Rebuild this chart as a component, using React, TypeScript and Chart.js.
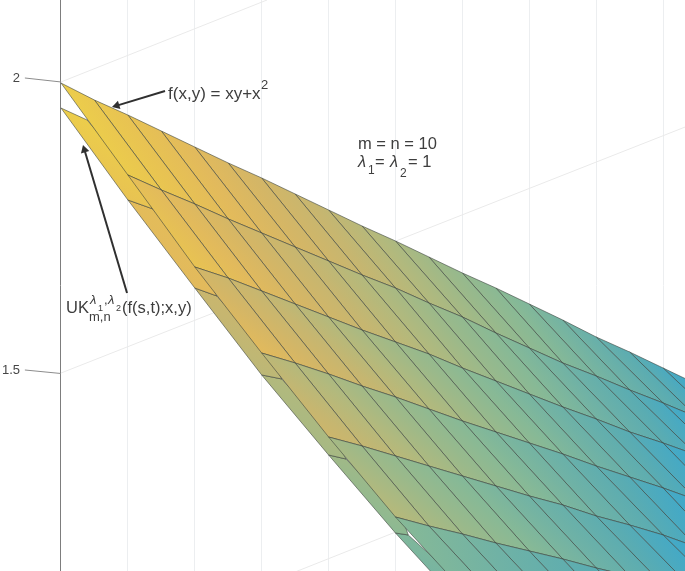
import React, { useEffect, useRef } from "react";
import { Chart, registerables } from "chart.js";

Chart.register(...registerables);

// Mesh columns (horizontal axis units) shared by every boundary of the surface
const columnX = [0, 0.5, 1, 1.5, 2, 2.5, 3, 3.5, 4, 4.5, 5, 5.5, 6, 6.5, 7, 7.5, 8, 8.5, 9, 9.5, 10, 10.5];

// Projected height of each surface boundary; row k starts at column x = k
const row0 = [1.9914, 1.9623, 1.9366, 1.9092, 1.8818, 1.8545, 1.8288, 1.8014, 1.774, 1.7466, 1.7209, 1.6935, 1.6661, 1.6404, 1.613, 1.5856, 1.5565, 1.5308, 1.5034, 1.476, 1.4486, 1.4212];
const row1 = [1.8339, 1.8082, 1.7843, 1.7586, 1.7346, 1.7106, 1.6867, 1.6627, 1.6404, 1.6147, 1.5908, 1.5634, 1.5377, 1.512, 1.4897, 1.4658, 1.4435, 1.4195, 1.3956, 1.3716];
const row2 = [1.6764, 1.6575, 1.6353, 1.613, 1.5908, 1.5685, 1.548, 1.5274, 1.5034, 1.4812, 1.4589, 1.4367, 1.4161, 1.3939, 1.375, 1.3545, 1.3339, 1.3134];
const row3 = [1.5291, 1.512, 1.4932, 1.4726, 1.4538, 1.4332, 1.4127, 1.3939, 1.375, 1.3562, 1.3356, 1.3168, 1.298, 1.2774, 1.2569, 1.238];
const row4 = [1.3853, 1.3699, 1.3528, 1.3356, 1.3185, 1.3014, 1.2843, 1.2689, 1.25, 1.2346, 1.2175, 1.1969, 1.1764, 1.1575];
const row5 = [1.2483, 1.2329, 1.2192, 1.2038, 1.1901, 1.1764, 1.161, 1.1473, 1.1319, 1.1182, 1.1045, 1.0908];
const row6 = [1.1233, 1.1096, 1.0959, 1.0822, 1.0685, 1.0548, 1.0411, 1.0274, 1.0137, 1.0];
const rows = [row0, row1, row2, row3, row4, row5, row6];

// Lower (operator) surface: its left edge and where it disappears under the upper one
const lowerEdgeX = [0, 1, 2, 3, 4, 5, 6];
const lowerEdgeZ = [1.9486, 1.7911, 1.6404, 1.4915, 1.3545, 1.2209, 1.0959];
const lowerToothX = [0.39, 1.375, 2.33, 3.3, 4.26, 5.19, 6.19];
const lowerToothZ = [1.9281, 1.7757, 1.6267, 1.4846, 1.3476, 1.2175, 1.0977];

// Colour level at the band corners (0 = blue, 1 = yellow)
const bandTopLeft = [1, 0.85, 0.68, 0.55, 0.44, 0.3];
const bandTopRight = [0, 0, 0, 0, 0, 0];
const bandBottomLeft = [0.98, 0.9, 0.8, 0.65, 0.52, 0.25];
const bandBottomRight = [0.08, 0.05, 0.04, 0.03, 0.04, 0];
const lowerTop = [1, 0.82, 0.62, 0.5, 0.42, 0.27];
const lowerBottom = [0.9, 0.8, 0.55, 0.45, 0.33, 0.2];

// Axes
const xGridValues = [0, 1, 2, 3, 4, 5, 6, 7, 8, 9];
const zTickValues = [2, 1.5];
const zTickLabels = ["2", "1.5"];

// Back wall lines and slanted tick stubs
const wallLines = [
  { x: [0, 3.08], z: [1.9932, 2.1336] },
  { x: [0, 9.33], z: [1.4948, 1.9161] },
  { x: [0, 9.33], z: [0.9949, 1.4195] },
];
const tickStubs = [
  { x: [-0.54, 0], z: [2, 1.9932] },
  { x: [-0.54, 0], z: [1.5, 1.494] },
];

// Annotation arrows: tail, head
const arrows = [
  { x: [1.555, 0.834], z: [1.9777, 1.9527], rot: 253 },
  { x: [0.987, 0.35], z: [1.6319, 1.8771], rot: -16.6 },
];

const SANS = '"Liberation Sans", Arial, sans-serif';
// Annotation text: anchor on the axes, runs offset in pixels
const annotations = [
  {
    x: 1.6, z: 1.964,
    runs: [
      { t: "f(x,y) = xy+x", dx: 0, dy: 0, s: 17 },
      { t: "2", dx: 93, dy: -10, s: 13 },
    ],
  },
  { x: 4.44, z: 1.879, runs: [{ t: "m = n = 10", dx: 0, dy: 0, s: 16.5 }] },
  {
    x: 4.44, z: 1.848,
    runs: [
      { t: "λ", dx: 0, dy: 0, s: 16.5, i: true },
      { t: "1", dx: 10, dy: 7, s: 12 },
      { t: "=", dx: 17, dy: 0, s: 16.5 },
      { t: "λ", dx: 32, dy: 0, s: 16.5, i: true },
      { t: "2", dx: 42, dy: 10, s: 12 },
      { t: "= 1", dx: 50, dy: 0, s: 16.5 },
    ],
  },
  {
    x: 0.075, z: 1.598,
    runs: [
      { t: "UK", dx: 0, dy: 0, s: 16.5 },
      { t: "m,n", dx: 23, dy: 8, s: 13 },
      { t: "λ", dx: 24, dy: -9, s: 13, i: true },
      { t: "1", dx: 32, dy: -2, s: 9 },
      { t: ",", dx: 38, dy: -9, s: 13 },
      { t: "λ", dx: 42, dy: -9, s: 13, i: true },
      { t: "2", dx: 50, dy: -2, s: 9 },
      { t: "(f(s,t);x,y)", dx: 56, dy: 0, s: 16.5 },
    ],
  },
];

const colourStops: [number, number[]][] = [
  [0, [60, 168, 205]],
  [0.1, [90, 172, 178]],
  [0.2, [112, 178, 165]],
  [0.3, [135, 185, 150]],
  [0.4, [155, 185, 138]],
  [0.5, [178, 185, 125]],
  [0.6, [198, 182, 112]],
  [0.7, [212, 182, 102]],
  [0.8, [226, 186, 92]],
  [0.9, [232, 195, 82]],
  [1, [236, 205, 75]],
];

type P = { x: number; y: number };

function cellFill(chart: any, pts: P[], levels: number[]) {
  const sx = chart.scales.x;
  const sy = chart.scales.y;
  if (!chart.chartArea || !sx || !sy) return "transparent";
  const p = pts.map((q) => [sx.getPixelForValue(q.x), sy.getPixelForValue(q.y)]);
  const ax = p[1][0] - p[0][0], ay = p[1][1] - p[0][1];
  const bx = p[2][0] - p[0][0], by = p[2][1] - p[0][1];
  const da = levels[1] - levels[0], db = levels[2] - levels[0];
  const det = ax * by - ay * bx;
  const gx = (da * by - db * ay) / det;
  const gy = (db * ax - da * bx) / det;
  const g2 = gx * gx + gy * gy || 1e-9;
  const x0 = p[0][0] - (gx * levels[0]) / g2;
  const y0 = p[0][1] - (gy * levels[0]) / g2;
  const grad = chart.ctx.createLinearGradient(x0, y0, x0 + gx / g2, y0 + gy / g2);
  colourStops.forEach(([v, c]) => grad.addColorStop(v, `rgb(${c[0]},${c[1]},${c[2]})`));
  return grad;
}

const MESH = "rgba(58,66,60,0.58)";

function polygon(points: P[], planePts: P[], levels: number[], order: number, border = MESH) {
  return {
    data: [...points, points[0]],
    order,
    fill: "shape",
    tension: 0,
    pointRadius: 0,
    borderWidth: 1,
    borderColor: border,
    backgroundColor: (ctx: any) => cellFill(ctx.chart, planePts, levels),
  };
}

function plainLine(x: number[], z: number[], color: string, width: number, order: number) {
  return {
    data: x.map((v, i) => ({ x: v, y: z[i] })),
    order,
    fill: false,
    tension: 0,
    pointRadius: 0,
    borderWidth: width,
    borderColor: color,
    clip: false,
  };
}

function buildDatasets() {
  const sets: any[] = [];
  wallLines.forEach((l) => sets.push(plainLine(l.x, l.z, "rgb(234,234,234)", 1, 1000)));
  tickStubs.forEach((l) => sets.push(plainLine(l.x, l.z, "rgb(140,140,140)", 1, 1000)));

  lowerEdgeX.slice(0, -1).forEach((_, k) => {
    const lt = { x: lowerEdgeX[k], y: lowerEdgeZ[k] };
    const tt = { x: lowerToothX[k], y: lowerToothZ[k] };
    const tb = { x: lowerToothX[k + 1], y: lowerToothZ[k + 1] };
    const lb = { x: lowerEdgeX[k + 1], y: lowerEdgeZ[k + 1] };
    const under = { x: columnX[2 * (k + 1)] + 0.1, y: rows[k + 1][0] };
    sets.push(polygon([lt, tt, under, tb, lb], [lt, tt, lb], [lowerTop[k], lowerTop[k], lowerBottom[k]], 900));
  });

  for (let k = 0; k < rows.length - 1; k++) {
    const top = rows[k];
    const bottom = rows[k + 1];
    const topSpan = (9.5 - k) * 2;
    const botSpan = (9.5 - (k + 1)) * 2;
    const levelTop = (j: number) => bandTopLeft[k] + (bandTopRight[k] - bandTopLeft[k]) * (j / topSpan);
    const levelBot = (j: number) => bandBottomLeft[k] + (bandBottomRight[k] - bandBottomLeft[k]) * (j / botSpan);
    for (let j = 0; j < bottom.length - 1; j++) {
      const tl = { x: columnX[2 * k + j], y: top[j] };
      const tr = { x: columnX[2 * k + j + 1], y: top[j + 1] };
      const br = { x: columnX[2 * (k + 1) + j + 1], y: bottom[j + 1] };
      const bl = { x: columnX[2 * (k + 1) + j], y: bottom[j] };
      sets.push(polygon([tl, tr, br, bl], [tl, tr, bl], [levelTop(j), levelTop(j + 1), levelBot(j)], 500 - k));
    }
  }

  arrows.forEach((a) => {
    sets.push({
      data: a.x.map((v, i) => ({ x: v, y: a.z[i] })),
      order: 1,
      fill: false,
      tension: 0,
      borderWidth: 2,
      borderColor: "rgb(48,48,48)",
      backgroundColor: "rgb(48,48,48)",
      pointStyle: "triangle",
      pointRadius: [0, 5],
      pointBorderWidth: 0,
      pointRotation: a.rot,
      clip: false,
    });
  });
  return sets;
}

const annotationPlugin = {
  id: "annotationText",
  afterDatasetsDraw(chart: any) {
    const { ctx, scales } = chart;
    ctx.save();
    ctx.fillStyle = "rgb(62,62,62)";
    ctx.textBaseline = "alphabetic";
    ctx.textAlign = "left";
    annotations.forEach((a) => {
      const px = scales.x.getPixelForValue(a.x);
      const py = scales.y.getPixelForValue(a.z);
      a.runs.forEach((r: any) => {
        ctx.font = `${r.i ? "italic " : ""}${r.s}px ${SANS}`;
        ctx.fillText(r.t, px + r.dx, py + r.dy);
      });
    });
    ctx.restore();
  },
};

function zeroPadding(s: any) {
  s.paddingTop = 0;
  s.paddingBottom = 0;
  s.paddingLeft = 0;
  s.paddingRight = 0;
}

export default function App() {
  const ref = useRef<HTMLCanvasElement | null>(null);
  useEffect(() => {
    if (!ref.current) return;
    const chart = new Chart(ref.current, {
      type: "line",
      data: { datasets: buildDatasets() },
      plugins: [annotationPlugin],
      options: {
        animation: false,
        responsive: false,
        layout: { padding: 0, autoPadding: false },
        plugins: { legend: { display: false }, tooltip: { enabled: false } },
        events: [],
        scales: {
          x: {
            type: "linear",
            min: -0.5979,
            max: 9.3274,
            afterBuildTicks: (s: any) => {
              s.ticks = xGridValues.map((value) => ({ value }));
            },
            afterFit: (s: any) => {
              s.height = 0;
              zeroPadding(s);
            },
            ticks: { display: false },
            border: { display: false },
            grid: {
              drawTicks: false,
              lineWidth: 1,
              color: (c: any) => (c.tick && c.tick.value === 0 ? "rgb(125,125,125)" : "rgb(236,238,240)"),
            },
          },
          y: {
            type: "linear",
            min: 1.15582,
            max: 2.13356,
            afterBuildTicks: (s: any) => {
              s.ticks = zTickValues.map((value) => ({ value }));
            },
            afterFit: (s: any) => {
              s.width = 21;
              zeroPadding(s);
            },
            ticks: {
              autoSkip: false,
              padding: 1,
              color: "rgb(70,70,70)",
              font: { family: SANS, size: 13 },
              callback: (v: any) => zTickLabels[zTickValues.indexOf(v)],
            },
            border: { display: false },
            grid: { display: false, drawTicks: false },
          },
        },
      } as any,
    });
    return () => chart.destroy();
  }, []);
  return (
    <div style={{ position: "fixed", left: 0, top: 0, width: 685, height: 571, background: "#fff", overflow: "hidden" }}>
      <canvas ref={ref} width={685} height={571} style={{ display: "block", filter: "blur(0.4px)" }} />
    </div>
  );
}
